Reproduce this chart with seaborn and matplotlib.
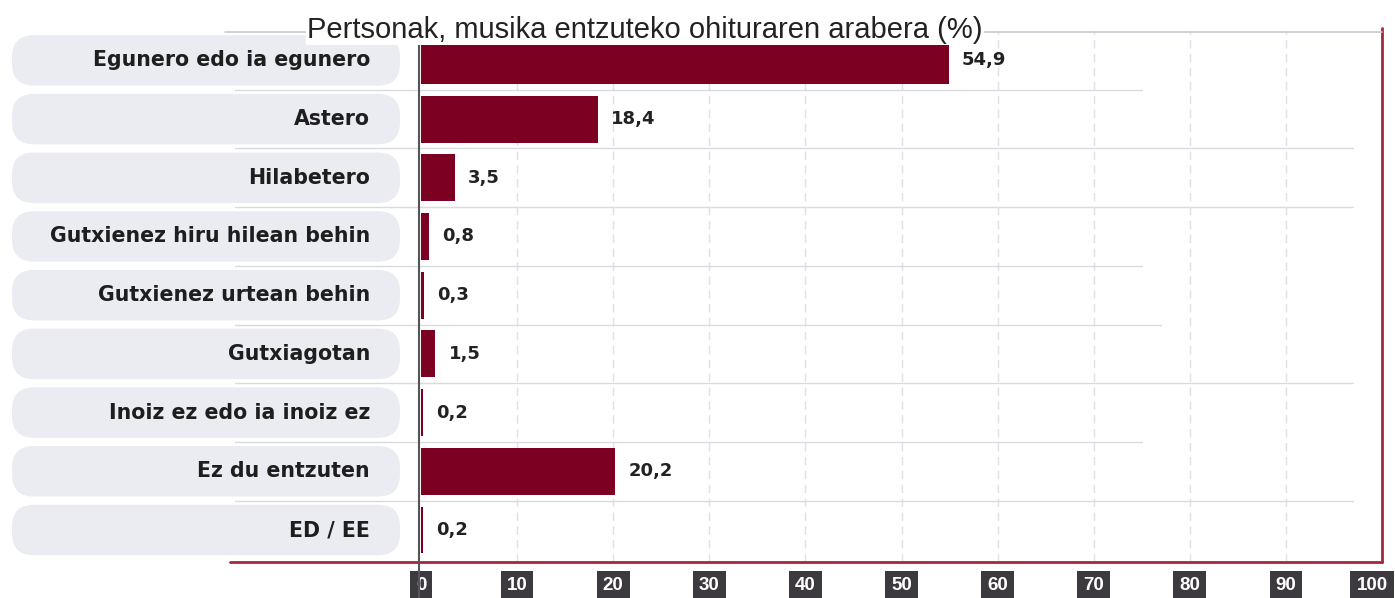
import matplotlib
matplotlib.use("Agg")
import matplotlib.pyplot as plt
import seaborn as sns
from matplotlib.patches import FancyBboxPatch
from matplotlib.lines import Line2D
from matplotlib.transforms import ScaledTranslation

# data
categories = ["Egunero edo ia egunero", "Astero", "Hilabetero",
              "Gutxienez hiru hilean behin", "Gutxienez urtean behin",
              "Gutxiagotan", "Inoiz ez edo ia inoiz ez", "Ez du entzuten", "ED / EE"]
values = [54.9, 18.4, 3.5, 0.8, 0.3, 1.5, 0.2, 20.2, 0.2]
value_labels = ["54,9", "18,4", "3,5", "0,8", "0,3", "1,5", "0,2", "20,2", "0,2"]
xticks = [0, 10, 20, 30, 40, 50, 60, 70, 80, 90, 100]
title = "Pertsonak, musika entzuteko ohituraren arabera (%)"

sns.set_theme(style="white")
plt.rcParams['font.family'] = ['DejaVu Sans']

W, H = 1395, 598
fig = plt.figure(figsize=(W / 100, H / 100), dpi=100)
fig.patch.set_facecolor("white")

bar_color = "#7c0022"
red_line = "#a3283f"

ax_left, ax_w = 421 / W, (1382 - 421) / W
ax_bot, ax_h = 1 - 562 / H, (562 - 31) / H
ax = fig.add_axes([ax_left, ax_bot, ax_w, ax_h])
ylim = (8.545, -0.5)

# dashed grid behind bars
for t in xticks[1:-1]:
    ax.axvline(t, color="#e0e0ea", lw=1.0, ls=(0, (6, 4)), zorder=0)

# row separators
sep_ends = [75, 97, 97, 75, 77, 97, 75, 97]
for i, e in enumerate(sep_ends):
    ax.plot([-19.4, e], [i + 0.5, i + 0.5], color="#d9d9e0", lw=1.0,
            clip_on=False, zorder=0)

sns.barplot(x=values, y=categories, orient="h", color=bar_color,
            saturation=1, width=0.8, ax=ax, zorder=2)
for p in ax.patches:
    p.set_edgecolor("none")

for i, (v, lab) in enumerate(zip(values, value_labels)):
    ax.text(v + 1.4, i, lab, va="center", ha="left", fontsize=13,
            fontweight="bold", color="#222222", zorder=3)

ax.set_xlim(0, 100)
ax.set_ylim(*ylim)
ax.set_yticks([])
ax.set_ylabel("")
ax.set_xticks(xticks)
ax.set_xticklabels([str(t) for t in xticks])
ax.tick_params(axis="x", length=0, pad=11, labelsize=13.5)
for lab in ax.get_xticklabels():
    lab.set_color("white")
    lab.set_fontweight("bold")
    lab.set_family("Liberation Sans")
    lab.set_bbox(dict(boxstyle="square,pad=0.32", fc="#3d3a3f", ec="none"))
last = ax.get_xticklabels()[-1]
last.set_transform(last.get_transform() + ScaledTranslation(-10 / 100, 0, fig.dpi_scale_trans))
for s in ax.spines.values():
    s.set_visible(False)
ax.patch.set_alpha(0)

# left label pills
axl = fig.add_axes([0, ax_bot, ax_left, ax_h])
axl.set_xlim(0, 421)
axl.set_ylim(*ylim)
axl.axis("off")
px_per_row = (562 - 31) / (ylim[0] - ylim[1])
for i, cat in enumerate(categories):
    pill = FancyBboxPatch((12, i - 0.43), 388, 0.86,
                          boxstyle="round,pad=0,rounding_size=22",
                          mutation_aspect=1 / px_per_row,
                          fc="#ebebf2", ec="none", zorder=1)
    axl.add_patch(pill)
    axl.text(370, i, cat, ha="right", va="center", fontsize=14.8,
             fontweight="bold", color="#1e1e1e", zorder=2)

# frame lines
fig.add_artist(Line2D([230 / W, 1382 / W], [1 - 562 / H] * 2, color=red_line, lw=2))
fig.add_artist(Line2D([1382 / W] * 2, [1 - 28 / H, 1 - 562 / H], color=red_line, lw=2))
fig.add_artist(Line2D([419 / W] * 2, [1 - 40 / H, 0], color="#555558", lw=1.5))
fig.add_artist(Line2D([225 / W, 1382 / W], [1 - 32 / H] * 2, color="#c8c8d0", lw=1.2))

fig.text(307 / W, 1 - 30 / H, title, ha="left", va="center", fontsize=21,
         family="Liberation Sans", color="#222222",
         bbox=dict(boxstyle="square,pad=0.05", fc="white", ec="none"))

fig.savefig("out.png", dpi=100, facecolor="white")
